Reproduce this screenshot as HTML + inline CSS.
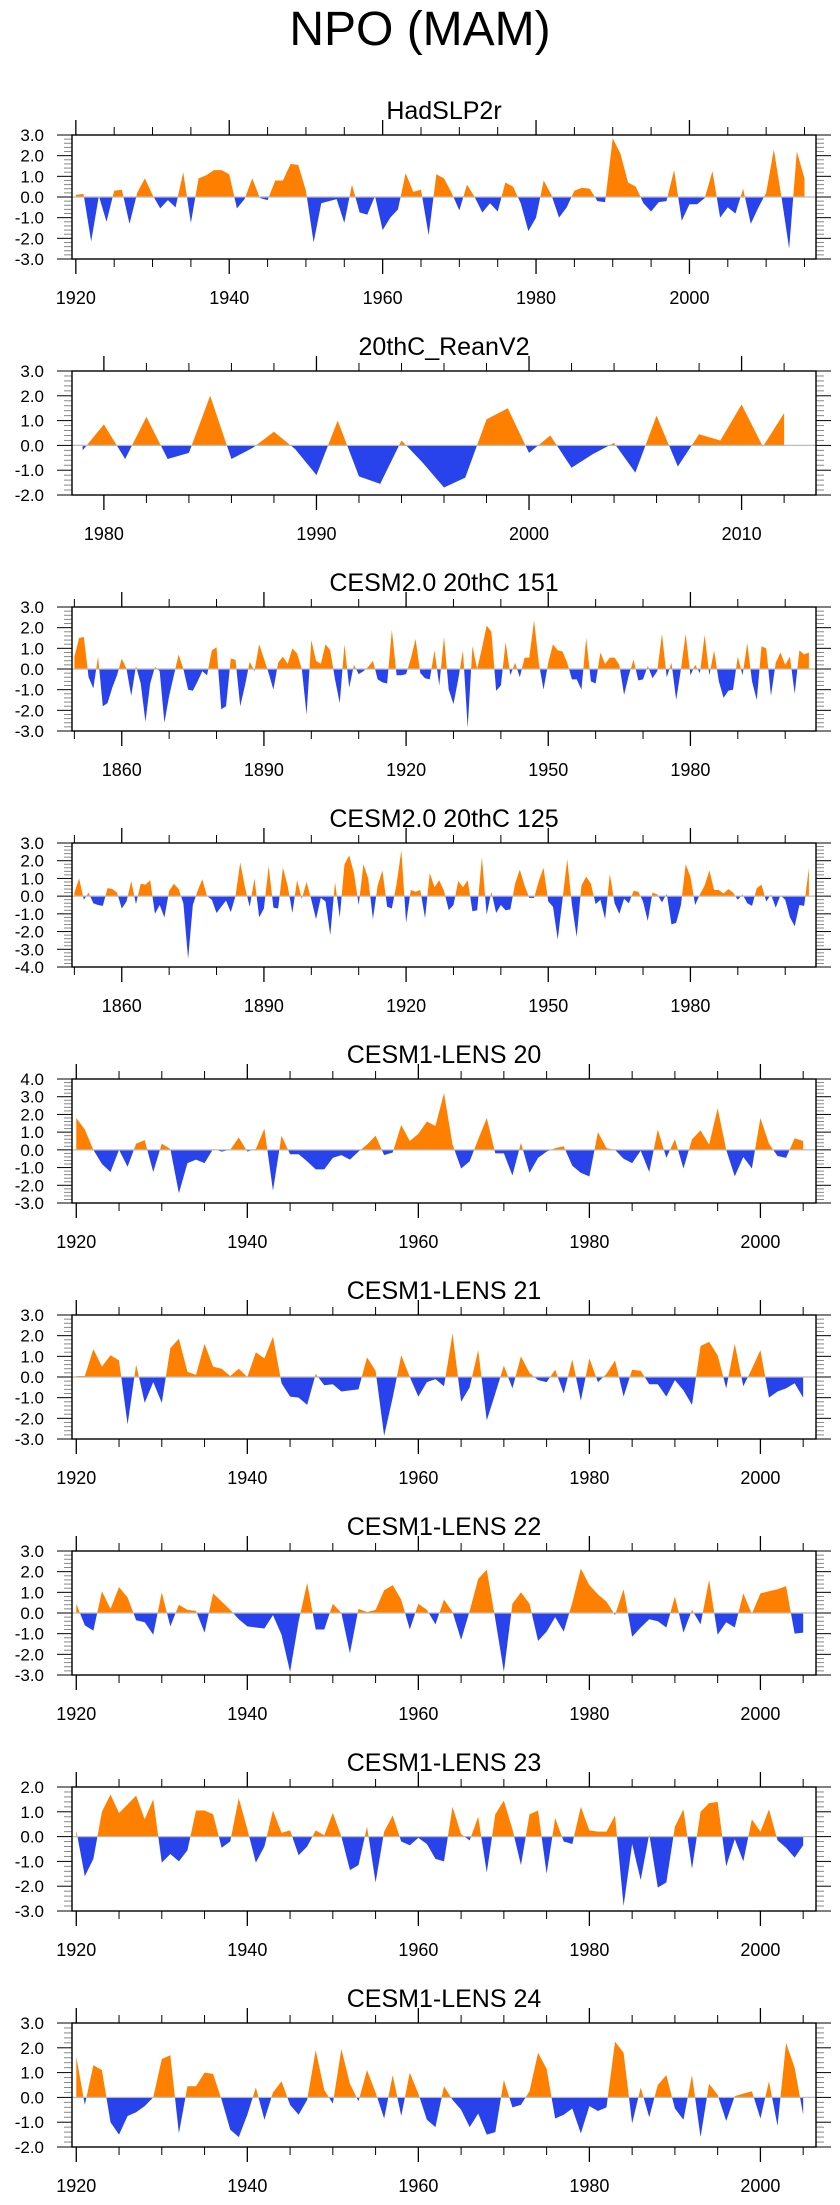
<!DOCTYPE html>
<html>
<head>
<meta charset="utf-8">
<style>
  html, body { margin: 0; padding: 0; background: #fff; }
  body { width: 840px; height: 2200px; overflow: hidden; font-family: "Liberation Sans", Arial, sans-serif; }
  svg text { font-family: "Liberation Sans", Arial, sans-serif; fill: #000; }
</style>
</head>
<body>
<svg id="chart" width="840" height="2200" viewBox="0 0 840 2200" xmlns="http://www.w3.org/2000/svg">
  <text x="420" y="45" text-anchor="middle" font-size="48">NPO (MAM)</text>
</svg>
<script>
// ---------- Data ----------
const panelTitles = ["HadSLP2r", "20thC_ReanV2", "CESM2.0 20thC 151", "CESM2.0 20thC 125",
  "CESM1-LENS 20", "CESM1-LENS 21", "CESM1-LENS 22", "CESM1-LENS 23", "CESM1-LENS 24"];
const startYears = [1920, 1979, 1850, 1850, 1920, 1920, 1920, 1920, 1920];
const yMins = [-3, -2, -3, -4, -3, -3, -3, -3, -2];
const yMaxs = [3, 3, 3, 3, 4, 3, 3, 2, 3];
const xMajorTicks = [
  [1920, 1940, 1960, 1980, 2000],
  [1980, 1990, 2000, 2010],
  [1860, 1890, 1920, 1950, 1980],
  [1860, 1890, 1920, 1950, 1980],
  [1920, 1940, 1960, 1980, 2000],
  [1920, 1940, 1960, 1980, 2000],
  [1920, 1940, 1960, 1980, 2000],
  [1920, 1940, 1960, 1980, 2000],
  [1920, 1940, 1960, 1980, 2000]
];
const xMinorSteps = [5, 2, 10, 10, 5, 5, 5, 5, 5];

const hadslp2rValues = [0.1,0.15,-2.15,0.05,-1.2,0.3,0.35,-1.3,0.2,0.9,0.1,-0.55,-0.15,-0.5,1.2,-1.25,0.9,1.05,1.3,1.3,
  1.1,-0.55,-0.1,0.9,-0.05,-0.15,0.8,0.8,1.6,1.55,0.3,-2.2,-0.3,-0.2,-0.1,-1.25,0.6,-0.75,-0.85,0.05,
  -1.6,-1.0,-0.6,1.15,0.25,0.35,-1.85,1.1,0.9,0.2,-0.65,0.6,0.0,-0.75,-0.3,-0.7,0.7,0.5,-0.3,-1.65,
  -1.0,0.8,0.1,-1.0,-0.5,0.3,0.45,0.4,-0.2,-0.25,2.85,2.1,0.7,0.5,-0.3,-0.7,-0.25,-0.2,1.3,-1.15,
  -0.35,-0.35,-0.05,1.25,-1.0,-0.5,-0.8,0.4,-1.3,-0.5,0.2,2.3,0.0,-2.5,2.2,0.9];
const reanV2Values = [-0.2,0.85,-0.55,1.15,-0.55,-0.3,2.0,-0.55,-0.1,0.55,-0.15,-1.2,1.0,-1.25,-1.55,0.2,-0.7,-1.7,-1.3,1.05,
  1.5,-0.3,0.4,-0.9,-0.35,0.1,-1.1,1.2,-0.85,0.45,0.2,1.65,-0.05,1.3];
const cesm2m151Values = [0.6,1.5,1.55,-0.4,-0.94,0.6,-1.8,-1.65,-0.9,-0.3,0.5,0.0,-1.3,0.15,-0.7,-2.55,-0.7,0.1,-0.1,-2.6,
  -1.3,-0.3,0.7,0.0,-1.0,-1.05,-0.6,-0.1,-0.3,0.9,1.05,-1.95,-1.8,0.5,0.45,-1.8,-0.8,0.35,-0.1,1.2,
  0.5,-0.2,-1.0,0.3,0.6,0.25,1.0,0.75,0.0,-2.2,1.4,0.4,0.25,1.2,0.9,-0.5,-1.65,1.2,-0.9,0.2,
  -0.25,-0.1,0.1,0.4,-0.5,-0.65,-0.7,1.9,-0.3,-0.3,-0.25,0.5,1.45,-0.2,-0.45,-0.5,0.9,-0.8,1.55,-1.0,
  -1.7,-0.5,0.9,-2.85,1.1,0.0,1.0,2.1,1.8,-1.05,-0.8,1.3,-0.3,0.3,-0.4,0.55,0.55,2.35,0.3,-1.0,
  0.3,1.2,0.9,0.85,0.3,-0.5,-0.5,-1.0,1.5,-0.6,-0.7,0.8,0.25,0.55,0.55,0.2,-1.25,-0.3,0.45,-0.55,
  -0.5,0.15,-0.45,-0.1,1.7,-0.4,0.3,-1.5,0.0,1.7,-0.3,0.2,-0.2,1.65,-0.3,0.9,-0.6,-1.4,-1.05,-1.0,
  0.6,-0.3,1.25,-0.6,-1.5,1.1,1.0,-1.3,0.3,0.8,0.2,0.6,-1.2,0.9,0.7,0.8];
const cesm2m125Values = [0.2,1.0,-0.2,0.2,-0.4,-0.5,-0.55,0.45,0.4,0.2,-0.7,-0.3,0.85,-0.45,0.7,0.65,0.9,-1.0,-0.5,-1.2,
  0.3,0.7,0.4,-0.4,-3.55,-0.5,0.3,0.95,0.0,-0.2,-0.95,-0.6,-0.25,-0.9,0.0,1.9,0.5,-0.6,1.0,-1.2,
  -0.7,1.7,-0.65,-0.7,1.6,0.6,-0.95,0.9,-0.15,0.8,-0.2,-1.3,-0.1,-0.3,-2.2,0.8,-1.2,1.8,2.3,1.3,
  -0.5,1.8,1.0,-1.3,0.6,1.45,-0.6,-0.7,0.7,2.6,-1.5,0.35,0.25,0.35,-1.25,1.3,0.5,0.9,0.3,-0.8,
  -0.5,0.85,0.5,0.9,-0.85,-0.8,2.2,-1.05,0.25,-0.95,-0.5,-0.8,-0.75,0.7,1.5,0.6,-0.1,-0.1,0.85,1.6,
  -0.3,-0.6,-2.45,-0.2,2.1,-0.5,-2.3,0.6,1.1,0.7,-0.45,-0.2,-1.3,1.25,-0.4,-1.0,-0.15,-0.4,0.3,0.25,
  -0.3,-1.4,0.2,0.1,-0.35,0.15,-1.6,-1.5,-0.5,1.8,1.1,-0.5,0.1,0.6,1.45,0.35,0.35,0.15,0.4,0.2,
  -0.2,0.1,-0.4,-0.55,0.45,0.65,-0.3,0.1,-0.65,0.05,-0.2,-1.2,-1.7,-0.5,-0.55,1.6];
const lens20Values = [1.8,1.15,0.0,-0.8,-1.25,0.0,-0.95,0.35,0.55,-1.25,0.35,0.05,-2.45,-0.75,-0.55,-0.75,0.05,-0.1,0.0,0.7,
  -0.1,0.05,1.2,-2.3,0.8,-0.25,-0.25,-0.65,-1.1,-1.1,-0.45,-0.3,-0.55,-0.1,0.3,0.8,-0.3,-0.15,1.4,0.5,
  0.9,1.6,1.35,3.2,0.3,-1.05,-0.65,0.6,1.8,-0.2,-0.2,-1.45,0.4,-1.3,-0.45,-0.1,0.1,0.2,-0.9,-1.3,
  -1.5,1.0,0.1,0.0,-0.5,-0.75,-0.05,-1.25,1.15,-0.45,0.6,-1.05,0.6,1.1,0.3,2.35,0.0,-1.5,-0.4,-1.05,
  1.8,0.35,-0.35,-0.45,0.65,0.5];
const lens21Values = [0.05,0.05,1.35,0.5,1.05,0.8,-2.3,0.6,-1.25,-0.25,-1.25,1.4,1.85,0.25,0.1,1.6,0.5,0.4,0.05,0.4,
  0.0,1.2,0.9,1.95,-0.3,-0.95,-1.0,-1.35,0.15,-0.4,-0.35,-0.7,-0.65,-0.6,0.95,0.3,-2.85,-1.0,1.05,0.0,
  -0.95,-0.25,-0.1,-0.45,2.1,-1.2,-0.5,1.3,-2.1,-0.8,0.55,-0.55,1.0,0.2,-0.15,-0.25,0.35,-0.8,0.85,-1.15,
  0.9,-0.25,0.15,0.8,-0.95,0.35,0.3,-0.35,-0.35,-0.95,-0.15,-0.65,-1.35,1.5,1.7,1.05,-0.55,1.6,-0.45,0.4,
  1.3,-1.0,-0.7,-0.55,-0.3,-1.0];
const lens22Values = [0.45,-0.6,-0.85,1.05,0.2,1.25,0.75,-0.35,-0.45,-1.05,1.0,-0.65,0.4,0.15,0.1,-0.95,0.95,0.55,0.15,-0.3,
  -0.65,-0.7,-0.75,-0.1,-1.05,-2.85,-0.4,1.45,-0.8,-0.8,0.45,0.0,-1.95,0.2,0.05,0.15,1.1,1.35,0.65,-0.8,
  0.45,0.15,-0.55,0.65,0.05,-1.3,0.1,1.65,2.1,-0.3,-2.85,0.45,1.0,0.45,-1.35,-0.9,-0.2,-0.9,0.5,2.15,
  1.35,0.9,0.55,-0.1,1.15,-1.15,-0.7,-0.3,-0.4,-0.7,0.8,-0.95,0.15,-0.55,1.6,-1.05,-0.45,-0.7,0.95,-0.05,
  0.95,1.05,1.15,1.3,-1.0,-0.95];
const lens23Values = [0.25,-1.6,-0.9,1.0,1.7,0.95,1.3,1.65,0.7,1.5,-1.05,-0.7,-1.0,-0.55,1.05,1.05,0.9,-0.45,-0.2,1.55,
  0.3,-1.05,-0.4,1.05,0.15,0.25,-0.75,-0.4,0.25,0.05,0.95,0.0,-1.35,-1.15,0.4,-1.85,0.2,0.85,-0.2,-0.35,
  -0.05,-0.3,-0.9,-1.0,1.2,0.1,-0.15,0.8,-1.45,0.9,1.45,0.3,-1.15,0.9,1.05,-1.5,0.75,-0.2,-0.3,1.2,
  0.25,0.2,0.2,0.85,-2.8,-0.3,-1.75,0.1,-2.05,-1.85,0.4,1.1,-1.3,1.0,1.35,1.4,-1.2,-0.1,-1.0,0.7,
  0.2,1.1,-0.15,-0.45,-0.85,-0.35];
const lens24Values = [1.65,-0.3,1.3,1.1,-1.0,-1.5,-0.75,-0.6,-0.35,0.0,1.55,1.7,-1.45,0.45,0.45,1.0,0.95,-0.1,-1.3,-1.6,
  -0.7,0.4,-0.9,0.2,0.65,-0.3,-0.7,-0.1,1.9,0.3,-0.25,1.95,0.55,-0.15,1.1,0.2,-0.85,0.9,-0.75,1.0,
  0.15,-0.9,-1.2,0.45,-0.1,-0.5,-1.2,-0.65,-1.5,-1.4,0.7,-0.4,-0.3,0.25,1.8,1.15,-0.85,-0.7,-0.45,-1.45,
  -0.35,-0.55,-0.4,2.25,1.8,-1.05,0.4,-0.8,0.5,0.9,-0.45,-0.9,0.9,-1.6,0.55,0.1,-0.95,0.05,0.15,0.25,
  -0.85,0.65,-1.15,2.2,1.2,-0.7];

const seriesValues = [hadslp2rValues, reanV2Values, cesm2m151Values, cesm2m125Values,
  lens20Values, lens21Values, lens22Values, lens23Values, lens24Values];

// ---------- Drawing ----------
const svg = document.getElementById('chart');
const NS = 'http://www.w3.org/2000/svg';
const BOX_L = 72, BOX_R = 816, BOX_H = 124, FIRST_TOP = 135, SPACING = 236;
const ORANGE = '#FF8000', BLUE = '#2843EB';

function mk(tag, attrs, parent) {
  const e = document.createElementNS(NS, tag);
  for (const k in attrs) e.setAttribute(k, attrs[k]);
  (parent || svg).appendChild(e);
  return e;
}
function slug(s) { return s.toLowerCase().replace(/[^a-z0-9]+/g, '-').replace(/^-|-$/g, ''); }

seriesValues.forEach((vals, p) => {
  const top = FIRST_TOP + p * SPACING, bot = top + BOX_H;
  const y0 = startYears[p], y1 = y0 + vals.length - 1;
  const xMin = y0 - 0.5, xMax = y1 + 1.5;
  const yMin = yMins[p], yMax = yMaxs[p];
  const xs = yr => BOX_L + (yr - xMin) / (xMax - xMin) * (BOX_R - BOX_L);
  const ys = v => bot - (v - yMin) / (yMax - yMin) * BOX_H;
  const name = slug(panelTitles[p]);

  const g = mk('g', {});
  
  

  const title = mk('text', { x: (BOX_L + BOX_R) / 2, y: top - 16, 'text-anchor': 'middle', 'font-size': 25 }, g);
  title.textContent = panelTitles[p];
  
  

  // area fills
  const zy = ys(0);
  let d = 'M' + xs(y0) + ',' + zy;
  vals.forEach((v, i) => { d += ' L' + xs(y0 + i).toFixed(2) + ',' + ys(v).toFixed(2); });
  d += ' L' + xs(y1) + ',' + zy + ' Z';
  const cid = 'clip' + p;
  const defs = mk('defs', {}, g);
  const cpA = mk('clipPath', { id: cid + 'a' }, defs);
  mk('rect', { x: BOX_L, y: top, width: BOX_R - BOX_L, height: zy - top }, cpA);
  const cpB = mk('clipPath', { id: cid + 'b' }, defs);
  mk('rect', { x: BOX_L, y: zy, width: BOX_R - BOX_L, height: bot - zy }, cpB);
  const pos = mk('path', { d: d, fill: ORANGE, 'clip-path': 'url(#' + cid + 'a)' }, g);
  
  
  const neg = mk('path', { d: d, fill: BLUE, 'clip-path': 'url(#' + cid + 'b)' }, g);
  
  

  const zl = mk('line', { x1: BOX_L, x2: BOX_R, y1: zy, y2: zy, stroke: '#bbbbbb', 'stroke-width': 1.2 }, g);
  
  

  // x ticks
  const firstMinor = Math.ceil(xMin / xMinorSteps[p]) * xMinorSteps[p];
  for (let t = firstMinor; t <= xMax; t += xMinorSteps[p]) {
    const major = xMajorTicks[p].includes(t);
    const L = major ? 15 : 8, x = xs(t);
    mk('line', { x1: x, x2: x, y1: top, y2: top - L, stroke: '#000', 'stroke-width': major ? 1.3 : 1 }, g);
    mk('line', { x1: x, x2: x, y1: bot, y2: bot + L, stroke: '#000', 'stroke-width': major ? 1.3 : 1 }, g);
  }
  xMajorTicks[p].forEach(t => {
    const tl = mk('text', { x: xs(t), y: bot + 45, 'text-anchor': 'middle', 'font-size': 18 }, g);
    tl.textContent = t;
    
    
  });

  // y ticks
  for (let k = Math.round(yMin * 5); k <= Math.round(yMax * 5); k++) {
    const v = k / 5, y = ys(v), major = k % 5 === 0;
    const L = major ? 15 : 8;
    const c = major ? '#000' : '#888';
    mk('line', { x1: BOX_L, x2: BOX_L - L, y1: y, y2: y, stroke: c, 'stroke-width': 1 }, g);
    mk('line', { x1: BOX_R, x2: BOX_R + L, y1: y, y2: y, stroke: c, 'stroke-width': 1 }, g);
    if (major) {
      const yl = mk('text', { x: 44, y: y + 6, 'text-anchor': 'end', 'font-size': 17 }, g);
      yl.textContent = v.toFixed(1);
      
      
    }
  }

  const box = mk('rect', { x: BOX_L, y: top, width: BOX_R - BOX_L, height: BOX_H, fill: 'none', stroke: '#000', 'stroke-width': 1.4 }, g);
  
  
});
</script>
</body>
</html>
